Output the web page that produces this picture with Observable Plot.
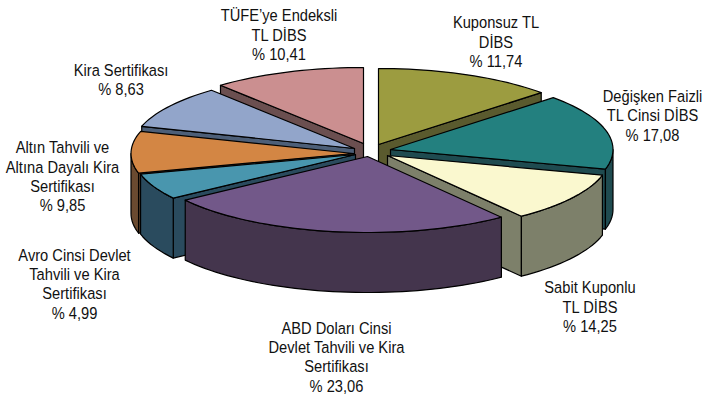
<!DOCTYPE html>
<html><head><meta charset="utf-8">
<style>html,body{margin:0;padding:0;background:#fff}svg{display:block}</style>
<script src="https://cdn.jsdelivr.net/npm/d3@7"></script>
<script src="https://cdn.jsdelivr.net/npm/@observablehq/plot@0.6"></script>
</head><body><script>
// Printed categories and values
const categories = ["Kuponsuz TL\nDİBS","Değişken Faizli\nTL Cinsi DİBS","Sabit Kuponlu\nTL DİBS","ABD Doları Cinsi\nDevlet Tahvili ve Kira\nSertifikası","Avro Cinsi Devlet\nTahvili ve Kira\nSertifikası","Altın Tahvili ve\nAltına Dayalı Kira\nSertifikası","Kira Sertifikası","TÜFE’ye Endeksli\nTL DİBS"];
const percentLabels = ["% 11,74","% 17,08","% 14,25","% 23,06","% 4,99","% 9,85","% 8,63","% 10,41"];
// Arc of each slice (degrees)
const arcDegrees = [47,58,38,92,20,32,33,40];
// Style and layout, separate from the data
const topColors  = ["#9c9c40","#23807f","#faf8cf","#725889","#4996ae","#d38644","#92a5ca","#cb8f90"];
const wallColors = ["#5a5a2e","#1f4b50","#7d806a","#44354d","#2a4b5e","#6a4a30","#4d5f78","#6b4f50"];
const labelX = [495.5,652,589.5,336,74,62,120.5,278.5];
const labelY = [41,114.5,306,356,283,175.5,78.5,34];
const paintOrder = [7,0,6,1,5,2,4,3];
const explodeDx = [7,19,16,-4,-16,-18,-17,-8];
const explodeDy = [-6,-1,5,6,4,3,-2,-7];
const cx=371, cy=150, rx=222.5, ry=76, depth=60;

const rad = d=>d*Math.PI/180;
let acc=0;
const slices = arcDegrees.map((a,i)=>{
  const s=acc, e=acc+a; acc=e;
  return {i,s,e,ax:cx+explodeDx[i],ay:cy+explodeDy[i]};
});
const pt=(sl,t,dz=0)=>({x:sl.ax+rx*Math.sin(rad(t)),y:sl.ay-ry*Math.cos(rad(t))+dz});
const arc=(sl,a,b,dz=0)=>{const n=Math.max(2,Math.ceil(Math.abs(b-a)/2));return d3.range(n+1).map(k=>pt(sl,a+(b-a)*k/n,dz));};
const poly=(points,fill)=>Plot.line([...points,points[0]],{x:"x",y:"y",fill,stroke:"#000",strokeWidth:1.2,strokeLinejoin:"round",curve:"linear"});
const marks=[];
for(const i of paintOrder){
  const sl=slices[i], w=wallColors[i], A={x:sl.ax,y:sl.ay}, A2={x:sl.ax,y:sl.ay+depth};
  const radial=t=>poly([A,pt(sl,t),pt(sl,t,depth),A2],w);
  if(sl.s>180&&sl.s<360) marks.push(radial(sl.s));
  if(sl.e>0&&sl.e<180) marks.push(radial(sl.e));
  const a=Math.max(sl.s,90), b=Math.min(sl.e,270);
  if(a<b) marks.push(poly([...arc(sl,a,b),...arc(sl,b,a,depth)],w));
  marks.push(poly([A,...arc(sl,sl.s,sl.e)],topColors[i]));
}
const labels=categories.map((c,i)=>({text:c+"\n"+percentLabels[i],x:labelX[i],y:labelY[i]}));
marks.push(Plot.text(labels,{x:"x",y:"y",text:"text",textAnchor:"middle",lineAnchor:"middle",lineHeight:1.18,fontSize:16.5,fill:"#111"}));
const chart=Plot.plot({width:702,height:401,margin:0,
  style:{fontFamily:"'Liberation Sans',sans-serif",background:"#fff"},
  x:{domain:[0,702],range:[0,702],axis:null},y:{domain:[0,401],range:[0,401],axis:null},marks});
// The reference face is a condensed grotesque: narrow the real text horizontally.
chart.querySelectorAll("text").forEach(t=>{const tr=t.getAttribute("transform")||"";t.setAttribute("transform",tr+" scale(0.89,1)");});
document.body.append(chart);
</script></body></html>
